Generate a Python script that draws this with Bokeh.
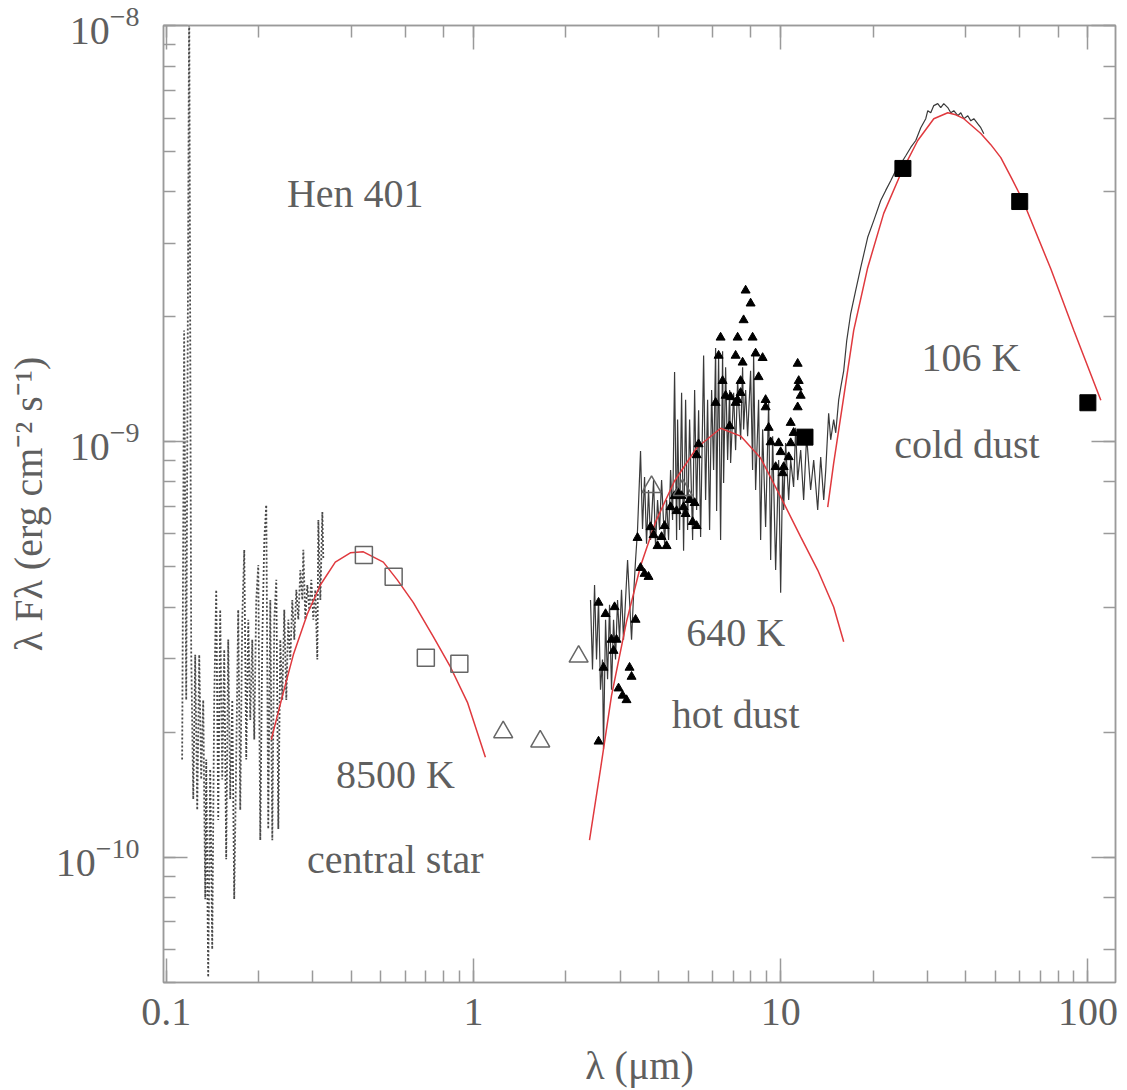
from bokeh.plotting import figure
from bokeh.models import (LogAxis, LogTicker, CustomJSTickFormatter, Label, Range1d)
from bokeh.embed import file_html
from bokeh.resources import INLINE

# ---------------- data ----------------
# UV spectrum of the central star (dotted)
uv_wl = [0.1127, 0.1144, 0.1162, 0.1188, 0.1206, 0.1225, 0.1243, 0.1262, 0.1281, 0.1300,
         0.1320, 0.1340, 0.1350, 0.1370, 0.1391, 0.1412, 0.1433, 0.1455, 0.1477, 0.1499,
         0.1522, 0.1545, 0.1568, 0.1592, 0.1616, 0.1641, 0.1665, 0.1690, 0.1716, 0.1742,
         0.1768, 0.1795, 0.1822, 0.1850, 0.1878, 0.1906, 0.1935, 0.1964, 0.1994, 0.2024,
         0.2055, 0.2086, 0.2117, 0.2149, 0.2182, 0.2215, 0.2248, 0.2282, 0.2317, 0.2352,
         0.2387, 0.2423, 0.2460, 0.2497, 0.2535, 0.2573, 0.2612, 0.2652, 0.2692, 0.2733,
         0.2774, 0.2795, 0.2837, 0.2880, 0.2923, 0.2967, 0.3012, 0.3058, 0.3104, 0.3128,
         0.3175, 0.3223, 0.3247]
uv_flux = [1.72e-10, 1.85e-9, 2.39e-10, 1.2e-8, 3.16e-10, 1.38e-10, 3.07e-10, 1.30e-10, 3.07e-10, 1.54e-10,
           2.39e-10, 7.93e-11, 1.72e-10, 5.15e-11, 1.63e-10, 6.01e-11, 2.39e-10, 4.40e-10, 1.23e-10, 3.94e-10,
           1.54e-10, 3.16e-10, 9.89e-11, 3.34e-10, 1.38e-10, 2.39e-10, 7.93e-11, 1.72e-10, 3.94e-10, 1.30e-10,
           3.73e-10, 5.49e-10, 1.72e-10, 3.73e-10, 2.14e-10, 3.34e-10, 1.92e-10, 4.16e-10, 5.05e-10, 1.10e-10,
           3.34e-10, 5.80e-10, 7.04e-10, 1.17e-10, 4.16e-10, 1.10e-10, 3.73e-10, 4.65e-10, 1.17e-10, 3.34e-10,
           2.39e-10, 3.94e-10, 2.39e-10, 3.73e-10, 2.99e-10, 4.16e-10, 3.34e-10, 4.40e-10, 3.73e-10, 4.91e-10,
           4.16e-10, 5.49e-10, 3.73e-10, 4.52e-10, 3.94e-10, 4.65e-10, 3.73e-10, 4.40e-10, 2.99e-10, 6.48e-10,
           4.16e-10, 6.77e-10, 5.19e-10]

# infrared spectrum (solid)
ir_wl = [2.405, 2.441, 2.479, 2.516, 2.554, 2.592, 2.631, 2.651, 2.692, 2.733,
         2.774, 2.815, 2.858, 2.901, 2.945, 2.990, 3.034, 3.080, 3.127, 3.175,
         3.222, 3.271, 3.320, 3.371, 3.421, 3.499, 3.551, 3.606, 3.660, 3.715,
         3.772, 3.858, 3.915, 3.975, 4.035, 4.097, 4.190, 4.253, 4.317, 4.383,
         4.449, 4.516, 4.585, 4.619, 4.689, 4.760, 4.831, 4.905, 4.979, 5.054,
         5.170, 5.248, 5.327, 5.407, 5.489, 5.614, 5.698, 5.784, 5.871, 5.961,
         6.050, 6.142, 6.188, 6.281, 6.376, 6.472, 6.521, 6.620, 6.720, 6.822,
         6.873, 7.029, 7.135, 7.243, 7.408, 7.519, 7.576, 7.691, 7.807, 7.984,
         8.104, 8.166, 8.289, 8.477, 8.606, 8.736, 8.934, 9.140, 9.278, 9.417,
         9.632, 9.851, 10.00, 10.15, 10.23, 10.38, 10.62, 10.78, 11.02, 11.19,
         11.36, 11.62, 11.88, 12.15, 12.52, 12.81, 13.20, 13.50, 13.81, 14.02,
         14.33, 14.55, 14.88, 15.11, 15.45, 15.69, 16.04, 16.41, 16.90, 17.55,
         18.22, 19.20, 20.09, 21.17, 21.98, 22.82, 23.69, 24.60, 25.54, 26.51,
         27.53, 28.58, 29.67, 30.12, 30.80, 31.51, 32.46, 33.20, 33.96, 34.99,
         35.79, 36.61, 37.73, 38.58, 39.47, 40.66, 41.59, 42.54, 43.84, 44.82, 45.85]
ir_flux = [4.16e-10, 2.83e-10, 4.52e-10, 2.99e-10, 4.16e-10, 2.53e-10, 2.99e-10, 1.82e-10, 3.73e-10, 2.68e-10,
           4.05e-10, 2.53e-10, 3.73e-10, 2.99e-10, 4.16e-10, 3.34e-10, 4.40e-10, 3.34e-10, 4.16e-10, 5.19e-10,
           4.16e-10, 3.34e-10, 4.26e-10, 5.19e-10, 6.13e-10, 9.49e-10, 6.16e-10, 8.22e-10, 5.68e-10, 7.65e-10,
           5.80e-10, 8.08e-10, 5.61e-10, 7.24e-10, 6.13e-10, 8.08e-10, 5.68e-10, 7.24e-10, 5.80e-10, 8.54e-10,
           6.48e-10, 1.47e-9, 5.80e-10, 1.13e-9, 6.13e-10, 1.31e-9, 5.46e-10, 1.26e-9, 6.13e-10, 1.13e-9,
           5.80e-10, 1.33e-9, 6.85e-10, 1.19e-9, 5.90e-10, 1.61e-9, 7.24e-10, 1.26e-9, 6.13e-10, 1.33e-9,
           8.54e-10, 1.68e-9, 6.81e-10, 1.60e-9, 5.80e-10, 1.65e-9, 7.95e-10, 1.51e-9, 9.03e-10, 1.33e-9,
           8.88e-10, 1.31e-9, 9.54e-10, 1.40e-9, 1.01e-9, 1.51e-9, 1.07e-9, 1.33e-9, 1.03e-9, 1.48e-9,
           8.54e-10, 1.63e-9, 7.65e-10, 1.26e-9, 5.80e-10, 1.07e-9, 6.23e-10, 1.24e-9, 5.19e-10, 1.03e-9,
           4.91e-10, 9.03e-10, 4.33e-10, 8.54e-10, 6.85e-10, 9.92e-10, 7.24e-10, 9.03e-10, 7.78e-10, 1.08e-9,
           8.08e-10, 9.54e-10, 7.24e-10, 1.03e-9, 7.65e-10, 9.03e-10, 6.85e-10, 9.18e-10, 7.24e-10, 8.54e-10,
           1.17e-9, 1.01e-9, 1.13e-9, 1.05e-9, 1.26e-9, 1.35e-9, 1.48e-9, 1.75e-9, 2.03e-9, 2.31e-9,
           2.62e-9, 3.10e-9, 3.40e-9, 3.80e-9, 4.02e-9, 4.24e-9, 4.49e-9, 4.66e-9, 4.87e-9, 5.10e-9,
           5.30e-9, 5.69e-9, 5.98e-9, 6.25e-9, 6.18e-9, 6.43e-9, 6.50e-9, 6.36e-9, 6.50e-9, 6.36e-9,
           6.18e-9, 6.25e-9, 6.08e-9, 6.18e-9, 5.98e-9, 6.08e-9, 5.91e-9, 5.98e-9, 5.81e-9, 5.69e-9, 5.50e-9]

# filled triangles (infrared spectrophotometry points)
tri_wl = [2.554, 2.651, 2.554, 2.692, 2.880, 2.815, 2.858, 2.923, 2.967, 3.058,
          3.150, 3.222, 3.271, 3.371, 3.421, 3.499, 3.606, 3.715, 3.772, 3.858,
          3.975, 4.097, 4.253, 4.190, 4.383, 4.516, 4.585, 4.619, 4.760, 4.831,
          4.905, 5.054, 5.170, 5.327, 5.248, 5.327, 5.407, 6.822, 7.243, 7.135,
          7.243, 6.376, 6.281, 6.472, 6.142, 6.620, 6.873, 7.135, 7.408, 7.408,
          7.519, 7.691, 7.984, 7.576, 8.104, 8.289, 8.736, 8.477, 8.934, 8.934,
          9.140, 9.278, 9.851, 10.00, 9.632, 10.23, 10.62, 10.78, 10.78, 11.02,
          11.36, 11.45, 11.36, 11.62, 11.36, 10.15]
tri_flux = [1.90e-10, 2.86e-10, 4.10e-10, 3.85e-10, 4.00e-10, 3.34e-10, 3.14e-10, 3.34e-10, 2.55e-10, 2.45e-10,
            2.39e-10, 2.86e-10, 2.72e-10, 3.73e-10, 5.87e-10, 4.97e-10, 4.81e-10, 4.73e-10, 6.23e-10, 5.96e-10,
            5.61e-10, 5.90e-10, 5.61e-10, 6.27e-10, 6.96e-10, 7.40e-10, 6.81e-10, 7.56e-10, 7.40e-10, 6.96e-10,
            6.70e-10, 7.24e-10, 6.41e-10, 6.27e-10, 7.12e-10, 9.28e-10, 9.86e-10, 1.09e-9, 1.26e-9, 1.61e-9,
            1.78e-9, 1.78e-9, 1.61e-9, 1.40e-9, 1.24e-9, 1.29e-9, 1.28e-9, 1.24e-9, 1.31e-9, 1.40e-9,
            1.55e-9, 2.31e-9, 2.15e-9, 1.96e-9, 1.78e-9, 1.63e-9, 1.59e-9, 1.43e-9, 1.26e-9, 1.21e-9,
            1.08e-9, 9.97e-10, 9.92e-10, 9.44e-10, 8.69e-10, 8.69e-10, 9.18e-10, 9.92e-10, 1.11e-9, 1.05e-9,
            1.54e-9, 1.40e-9, 1.35e-9, 1.29e-9, 1.21e-9, 8.40e-10]

# optical photometry (open squares)
opt_wl = [0.44, 0.55, 0.70, 0.90]
opt_flux = [5.34e-10, 4.73e-10, 3.02e-10, 2.92e-10]

# near-infrared photometry (open triangles)
nir_wl = [1.25, 1.65, 2.2, 3.8, 4.8]
nir_flux = [2.00e-10, 1.90e-10, 3.04e-10, 7.78e-10, 7.65e-10]

# IRAS photometry (filled squares)
iras_wl = [12, 25, 60, 100]
iras_flux = [1.025e-9, 4.54e-9, 3.78e-9, 1.24e-9]

# blackbody fits (red curves)
bb_star_wl = [0.2198, 0.2405, 0.2593, 0.2880, 0.3175, 0.3551, 0.3975, 0.4383, 0.5091, 0.5652,
              0.6375, 0.7410, 0.8417, 0.9561, 1.094]
bb_star_flux = [1.92e-10, 2.49e-10, 3.07e-10, 3.85e-10, 4.52e-10, 5.13e-10, 5.40e-10, 5.43e-10, 5.13e-10, 4.65e-10,
                4.10e-10, 3.39e-10, 2.87e-10, 2.36e-10, 1.74e-10]
bb_hot_wl = [2.387, 2.592, 2.815, 3.150, 3.499, 3.915, 4.514, 5.325, 6.378, 7.410,
             8.607, 10.23, 11.62, 13.20, 14.88, 16.04]
bb_hot_flux = [1.10e-10, 1.63e-10, 2.45e-10, 3.69e-10, 5.02e-10, 6.41e-10, 8.04e-10, 9.65e-10, 1.077e-9, 1.031e-9,
               9.13e-10, 7.12e-10, 5.90e-10, 4.91e-10, 4.00e-10, 3.30e-10]
bb_cold_wl = [14.23, 14.88, 16.04, 17.29, 19.20, 21.65, 24.60, 27.94, 31.51, 34.99,
              37.15, 39.47, 44.82, 48.31, 52.07, 56.55, 61.43, 75.78, 90.03, 110.2]
bb_cold_flux = [6.96e-10, 8.88e-10, 1.279e-9, 1.852e-9, 2.62e-9, 3.54e-9, 4.41e-9, 5.30e-9, 5.98e-9, 6.18e-9,
                6.11e-9, 5.98e-9, 5.51e-9, 5.18e-9, 4.82e-9, 4.29e-9, 3.80e-9, 2.60e-9, 1.85e-9, 1.258e-9]

# annotations
annotations = [
    ("Hen 401", 0.4126, 3.95e-9),
    ("8500 K", 0.557, 1.58e-10),
    ("central star", 0.557, 9.89e-11),
    ("640 K", 7.135, 3.47e-10),
    ("hot dust", 7.135, 2.20e-10),
    ("106 K", 41.6, 1.59e-9),
    ("cold dust", 40.4, 9.86e-10),
]

# ---------------- figure ----------------
FONT = "Liberation Serif"
GREY = "#5f5f5f"
FRAME = "#9a9a9a"

p = figure(width=1127, height=1090, x_axis_type="log", y_axis_type="log",
           x_range=Range1d(0.098, 123), y_range=Range1d(5.0e-11, 1.002e-8),
           output_backend="svg", toolbar_location=None,
           min_border_left=163, min_border_right=12, min_border_top=25, min_border_bottom=108)
p.background_fill_color = "white"
p.border_fill_color = "white"
p.grid.visible = False
p.outline_line_color = FRAME
p.outline_line_width = 1.5

xfmt = CustomJSTickFormatter(code="""
if (tick < 0.5) { return tick.toFixed(1); }
return Math.round(tick).toString();
""")
p.xaxis.formatter = xfmt
p.xaxis.axis_label = "λ (μm)"
p.yaxis.axis_label = "λ Fλ (erg cm⁻² s⁻¹)"

def style_axis(ax):
    ax.axis_line_color = FRAME
    ax.axis_line_width = 1.5
    ax.major_tick_line_color = FRAME
    ax.minor_tick_line_color = FRAME
    ax.major_tick_line_width = 1.5
    ax.minor_tick_line_width = 1.5
    ax.major_tick_in = 24
    ax.major_tick_out = 0
    ax.minor_tick_in = 12
    ax.minor_tick_out = 0

for ax in list(p.xaxis) + list(p.yaxis):
    style_axis(ax)
    ax.major_label_text_font = FONT
    ax.major_label_text_font_size = "40px"
    ax.major_label_text_color = GREY
    ax.axis_label_text_font = FONT
    ax.axis_label_text_font_size = "40px"
    ax.axis_label_text_font_style = "normal"
    ax.axis_label_text_color = GREY
p.xaxis.major_label_standoff = 16
p.xaxis.axis_label_standoff = 15
p.yaxis.major_label_standoff = 24
p.yaxis.axis_label_standoff = 2

# mirrored tick axes on top and right
blank = CustomJSTickFormatter(code="return '';")
top_ax = LogAxis(ticker=LogTicker(), formatter=blank, major_label_text_font_size="0px",
                 major_label_standoff=0)
right_ax = LogAxis(ticker=LogTicker(), formatter=blank, major_label_text_font_size="0px",
                   major_label_standoff=0)
for ax in (top_ax, right_ax):
    style_axis(ax)
p.add_layout(top_ax, "above")
p.add_layout(right_ax, "right")

# ---------------- glyphs ----------------
p.line(uv_wl, uv_flux, line_color="#4a4a4a", line_width=1.8, line_dash="2 2")
p.line(ir_wl, ir_flux, line_color="#3a3a3a", line_width=1.2)

RED = "#e0393e"
p.line(bb_star_wl, bb_star_flux, line_color=RED, line_width=1.5)
p.line(bb_hot_wl, bb_hot_flux, line_color=RED, line_width=1.5)
p.line(bb_cold_wl, bb_cold_flux, line_color=RED, line_width=1.5)

p.scatter(tri_wl, tri_flux, marker="triangle", size=9, fill_color="black", line_color="black")
p.scatter(opt_wl, opt_flux, marker="square", size=17, fill_color=None, line_color="#666666", line_width=1.5)
p.scatter(nir_wl, nir_flux, marker="triangle", size=19, fill_color=None, line_color="#666666", line_width=1.5)
p.scatter(iras_wl, iras_flux, marker="square", size=16, fill_color="black", line_color="black")

for txt, lx, ly in annotations:
    p.add_layout(Label(x=lx, y=ly, text=txt, text_align="center", text_baseline="middle",
                       text_font=FONT, text_font_size="40px", text_color=GREY))

open("out.html", "w").write(file_html(p, INLINE))
